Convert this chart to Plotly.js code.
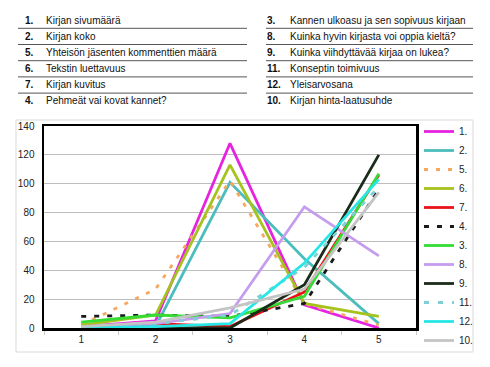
<!DOCTYPE html>
<html><head><meta charset="utf-8">
<script src="https://cdn.plot.ly/plotly-3.0.1.min.js"></script>
<style>html,body{margin:0;padding:0;background:#fff;}#chart{width:490px;height:367px;}</style>
</head><body><div id="chart"></div>
<script>
// ---- data ----
const categories = ["1", "2", "3", "4", "5"];
const seriesNames = ["1.", "2.", "5.", "6.", "7.", "4.", "3.", "8.", "9.", "11.", "12.", "10."];
const s1  = [1, 5, 128, 16, 0];
const s2  = [1, 1, 101, 48, 3];
const s5  = [2, 27, 102, 17, 2];
const s6  = [2, 9, 113, 17, 8];
const s7  = [1, 3, 1, 25, 106];
const s4  = [8, 9, 8, 17, 96];
const s3  = [4, 9, 7, 22, 107];
const s8  = [1, 3, 10, 84, 50];
const s9  = [0, 0, 0, 30, 120];
const s11 = [1, 3, 9, 42, 98];
const s12 = [0, 1, 3, 45, 103];
const s10 = [1, 4, 14, 27, 94];
const seriesValues = [s1, s2, s5, s6, s7, s4, s3, s8, s9, s11, s12, s10];
const tableLeftNums = ["1.", "2.", "5.", "6.", "7.", "4."];
const tableLeftText = ["Kirjan sivumäärä", "Kirjan koko", "Yhteisön jäsenten kommenttien määrä", "Tekstin luettavuus", "Kirjan kuvitus", "Pehmeät vai kovat kannet?"];
const tableRightNums = ["3.", "8.", "9.", "11.", "12.", "10."];
const tableRightText = ["Kannen ulkoasu ja sen sopivuus kirjaan", "Kuinka hyvin kirjasta voi oppia kieltä?", "Kuinka viihdyttävää kirjaa on lukea?", "Konseptin toimivuus", "Yleisarvosana", "Kirjan hinta-laatusuhde"];

// ---- styles ----
const colors = ["#e623e0", "#4bbdbd", "#f5a860", "#a6c21e", "#e8141c", "#1a1a1a", "#35dc35", "#c59cee", "#1b2c1b", "#7fd0d6", "#27e6e6", "#c4c4c4"];
const dashes = ["solid", "solid", "4px,8px", "solid", "solid", "5px,8px", "solid", "solid", "solid", "5px,9px", "solid", "solid"];

const W = 490, H = 367;
const ML = 44, MR = 74, MT = 126, MB = 39;
const PW = W - ML - MR, PH = H - MT - MB;
const FONT = "Liberation Sans, Arial, sans-serif";

const traces = seriesValues.map((v, i) => ({
  type: "scatter", mode: "lines", x: categories, y: v, name: seriesNames[i],
  line: {color: colors[i], width: 2.8, dash: dashes[i]}
}));

function toPx(x) { return (x - ML) / PW; }
function toPy(y) { return (H - MB - y) / PH; }

const annotations = [];
const shapes = [];
const rowY0 = 20, rowStep = 16.2;
const tf = {family: FONT, size: 10, color: "#111"};
tableLeftNums.forEach((n, i) => {
  const y = rowY0 + i * rowStep;
  annotations.push({xref: "paper", yref: "paper", x: toPx(23), y: toPy(y), xanchor: "left", yanchor: "middle", showarrow: false, text: "<b>" + n + "</b>", font: tf});
  annotations.push({xref: "paper", yref: "paper", x: toPx(44), y: toPy(y), xanchor: "left", yanchor: "middle", showarrow: false, text: tableLeftText[i], font: tf});
  annotations.push({xref: "paper", yref: "paper", x: toPx(265), y: toPy(y), xanchor: "left", yanchor: "middle", showarrow: false, text: "<b>" + tableRightNums[i] + "</b>", font: tf});
  annotations.push({xref: "paper", yref: "paper", x: toPx(288), y: toPy(y), xanchor: "left", yanchor: "middle", showarrow: false, text: tableRightText[i], font: tf});
  if (i < 5) {
    const ly = y + 8.3;
    shapes.push({type: "line", xref: "paper", yref: "paper", x0: toPx(18), x1: toPx(247), y0: toPy(ly), y1: toPy(ly), line: {color: "#555", width: 1}});
    shapes.push({type: "line", xref: "paper", yref: "paper", x0: toPx(266), x1: toPx(473), y0: toPy(ly), y1: toPy(ly), line: {color: "#555", width: 1}});
  }
});
// outer chart border
shapes.push({type: "rect", xref: "paper", yref: "paper", x0: toPx(16), x1: toPx(473), y0: toPy(120), y1: toPy(352), line: {color: "#d9d9d9", width: 1}, layer: "below"});

const layout = {
  width: W, height: H,
  margin: {l: ML, r: MR, t: MT, b: MB, autoexpand: false},
  paper_bgcolor: "#fff", plot_bgcolor: "#fff",
  showlegend: true,
  font: {family: FONT, size: 10, color: "#222"},
  xaxis: {type: "category", range: [-0.5, 4.5], showline: true, linecolor: "#000", linewidth: 2.5, mirror: true,
    showgrid: false, zeroline: false, ticks: "outside", tickson: "boundaries", ticklen: 4, tickcolor: "#c8c8c8",
    tickfont: {family: FONT, size: 10, color: "#222"}, fixedrange: true, automargin: false},
  yaxis: {range: [0, 140], dtick: 20, showline: true, linecolor: "#000", linewidth: 2.5, mirror: true,
    showgrid: true, gridcolor: "#bdbdbd", gridwidth: 1, zeroline: false, ticks: "outside", ticklen: 5, tickcolor: "rgba(0,0,0,0)",
    tickfont: {family: FONT, size: 10, color: "#222"}, fixedrange: true, automargin: false},
  legend: {x: 1.008, xanchor: "left", y: toPy(117), yanchor: "top", maxheight: 300,
    bgcolor: "rgba(0,0,0,0)", borderwidth: 0,
    font: {family: FONT, size: 10, color: "#222"}, itemwidth: 30, tracegroupgap: 0},
  annotations: annotations,
  shapes: shapes
};

Plotly.newPlot("chart", traces, layout, {displayModeBar: false, staticPlot: true});
</script>
</body></html>
